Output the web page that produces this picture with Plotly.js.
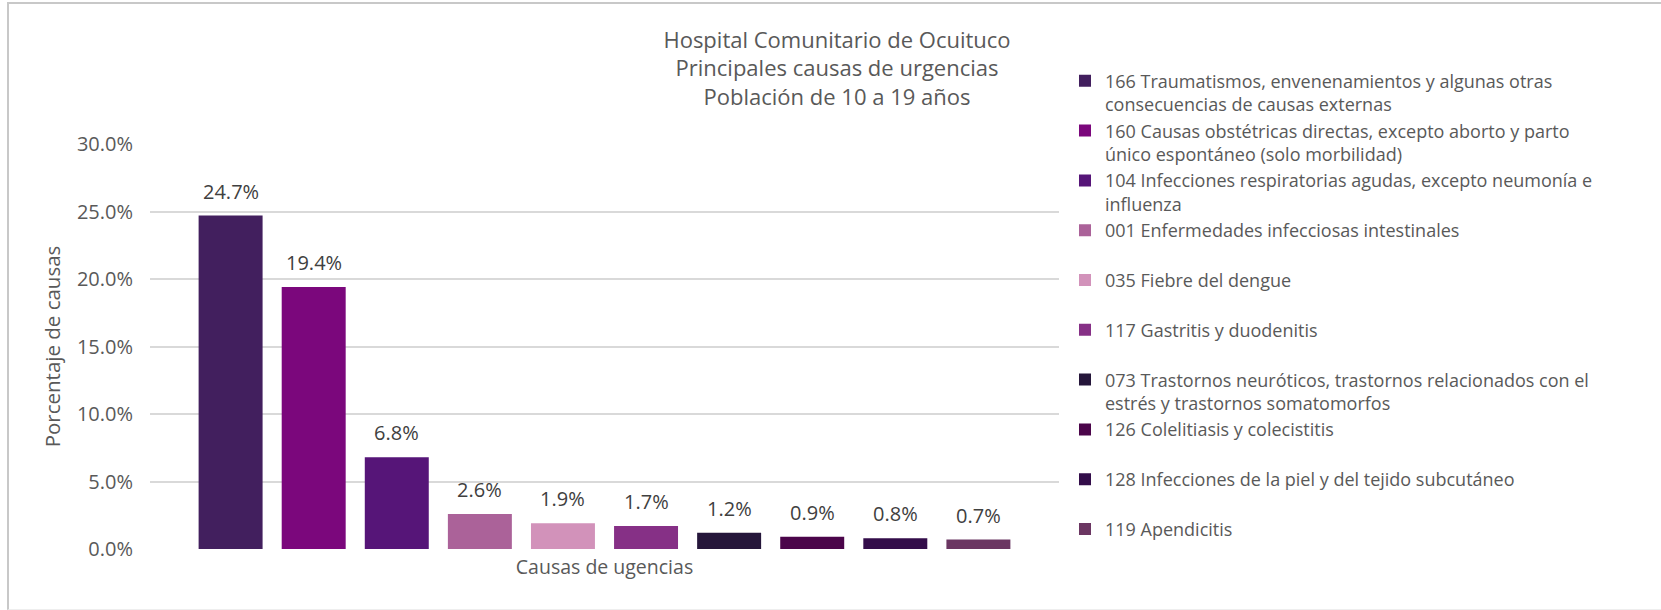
<!DOCTYPE html>
<html><head><meta charset="utf-8">
<script src="https://cdn.plot.ly/plotly-3.0.1.min.js"></script>
<style>
html,body{margin:0;padding:0;background:#fff;overflow:hidden;}
#wrap{position:relative;width:1661px;height:610px;overflow:hidden;}
#chart{position:absolute;left:0;top:0;width:1661px;height:610px;}
#frame{position:absolute;left:7px;top:2px;width:1700px;height:605px;border-left:2px solid #c8c8c8;border-top:2px solid #c8c8c8;border-bottom:1px solid #eeeeee;pointer-events:none;}
</style></head><body>
<div id="wrap"><div id="chart"></div><div id="frame"></div></div>
<script>
const codes = ['166','160','104','001','035','117','073','126','128','119'];
const categories = codes.map(c => 'causa ' + c);
const labels = [
  '166 Traumatismos, envenenamientos y algunas otras<br>consecuencias de causas externas',
  '160 Causas obstétricas directas, excepto aborto y parto<br>único espontáneo (solo morbilidad)',
  '104 Infecciones respiratorias agudas, excepto neumonía e<br>influenza',
  '001 Enfermedades infecciosas intestinales<br>\u00a0',
  '035 Fiebre del dengue<br>\u00a0',
  '117 Gastritis y duodenitis<br>\u00a0',
  '073 Trastornos neuróticos, trastornos relacionados con el<br>estrés y trastornos somatomorfos',
  '126 Colelitiasis y colecistitis<br>\u00a0',
  '128 Infecciones de la piel y del tejido subcutáneo<br>\u00a0',
  '119 Apendicitis<br>\u00a0'
];
const values = [0.247, 0.194, 0.068, 0.026, 0.019, 0.017, 0.012, 0.009, 0.008, 0.007];
const colors = ['#421F5E','#7B077C','#561578','#AB6299','#D292BA','#863086','#25163A','#4B054A','#330D4A','#6B3662'];
const yTicks = [0, 0.05, 0.10, 0.15, 0.20, 0.25, 0.30];
const titleLines = ['Hospital Comunitario de Ocuituco','Principales causas de urgencias','Población de 10 a 19 años'];
const xTitle = 'Causas de ugencias';
const yTitle = 'Porcentaje de causas';

const FONT = '"Open Sans", "Liberation Sans", Arial, sans-serif';
const GREY = '#595959';

const traces = categories.map((c, i) => ({
  type: 'bar',
  x: [c],
  y: [values[i]],
  name: labels[i],
  marker: {color: colors[i]},
  hoverinfo: 'skip'
}));

const annotations = categories.map((c, i) => ({
  x: c, y: values[i], xref: 'x', yref: 'y',
  text: (values[i] * 100).toFixed(1) + '%',
  showarrow: false, yanchor: 'bottom', yshift: 9,
  font: {family: FONT, size: 20, color: '#404040'}
}));

const layout = {
  width: 1661, height: 610,
  paper_bgcolor: 'rgba(0,0,0,0)', plot_bgcolor: 'rgba(0,0,0,0)',
  font: {family: FONT, color: GREY},
  margin: {l: 150, r: 602, t: 144, b: 61, autoexpand: false},
  barmode: 'overlay', bargap: 0.23,
  title: {
    text: titleLines.join('<br>'),
    x: 0.7558, xref: 'paper', xanchor: 'center',
    y: 0.922, yref: 'container', yanchor: 'top',
    font: {family: FONT, size: 22, color: GREY}
  },
  xaxis: {
    type: 'category', categoryorder: 'array', categoryarray: categories,
    range: [-0.97, 9.97], showticklabels: false, ticks: '',
    showgrid: false, zeroline: false, showline: false, automargin: false,
    title: {text: xTitle, font: {family: FONT, size: 19.5, color: GREY}, standoff: 11}
  },
  yaxis: {
    range: [0, 0.3], tickvals: yTicks, tickformat: '.1%', ticks: '',
    tickfont: {family: FONT, size: 20, color: GREY}, ticklabelstandoff: 16,
    showgrid: true, gridcolor: '#d9d9d9', gridwidth: 2,
    zeroline: false, showline: false, automargin: false,
    title: {text: yTitle, font: {family: FONT, size: 20.5, color: GREY}, standoff: 10}
  },
  legend: {
    x: 1.0066, xanchor: 'left', y: 1.201, yanchor: 'top',
    maxheight: 600,
    font: {family: FONT, size: 18, color: GREY},
    valign: 'top', tracegroupgap: 0, bgcolor: 'rgba(0,0,0,0)',
    itemclick: false, itemdoubleclick: false
  },
  annotations: annotations,
  showlegend: true
};

Plotly.newPlot('chart', traces, layout, {displayModeBar: false, staticPlot: true});
</script>
</body></html>
